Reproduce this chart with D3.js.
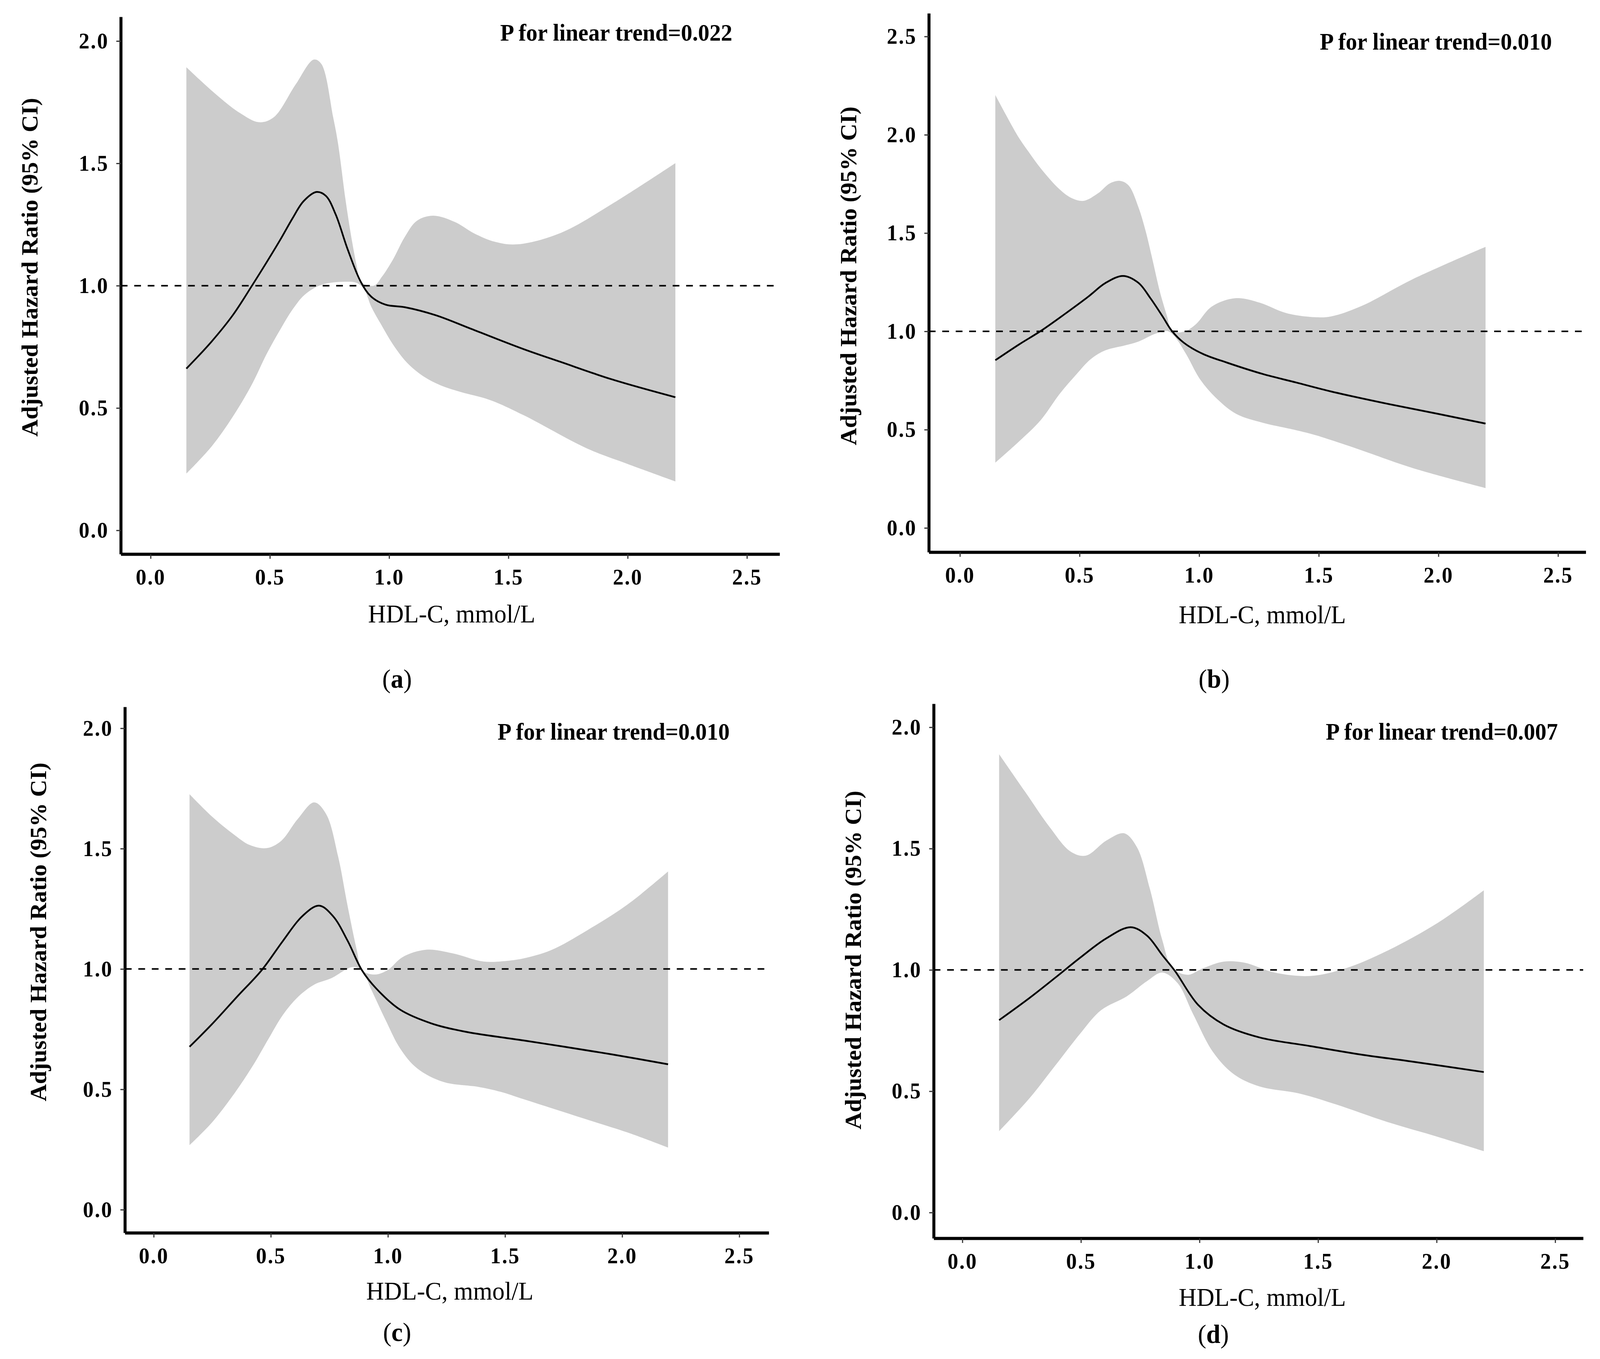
<!DOCTYPE html>
<html>
<head>
<meta charset="utf-8">
<script src="https://cdn.jsdelivr.net/npm/d3@7"></script>
<style>
  html, body { margin: 0; padding: 0; background: #fff; overflow: hidden; }
  svg { display: block; width: 100vw; height: 100vh; }
  text { font-family: "Liberation Serif", "Times New Roman", serif; fill: #000; }
</style>
</head>
<body>
<div id="chart"></div>
<script>
// tick labels
const xTicks = [0, 0.5, 1, 1.5, 2, 2.5];
const yTicksLow = [0, 0.5, 1, 1.5, 2];
const yTicksHigh = [0, 0.5, 1, 1.5, 2, 2.5];
const panelTags = ['a', 'b', 'c', 'd'];
const pTrend = ['0.022', '0.010', '0.010', '0.007'];

// (a) hazard ratio and 95% CI, [HDL-C, HR]
const hrA = [[0.15,0.661],[0.256,0.772],[0.345,0.88],[0.425,1.0],[0.486,1.095],[0.545,1.19],[0.596,1.277],[0.641,1.345],[0.696,1.383],[0.735,1.367],[0.776,1.291],[0.826,1.149],[0.881,1.016],[0.925,0.955],[0.986,0.922],[1.066,0.912],[1.196,0.879],[1.345,0.823],[1.563,0.741],[1.72,0.688],[1.934,0.617],[2.2,0.544]];
const upA = [[0.15,1.893],[0.267,1.788],[0.374,1.706],[0.455,1.668],[0.516,1.688],[0.609,1.824],[0.684,1.924],[0.716,1.906],[0.765,1.69],[0.785,1.586],[0.82,1.332],[0.845,1.179],[0.865,1.077],[0.881,1.016],[0.936,1.0],[0.97,1.037],[1.016,1.107],[1.066,1.2],[1.116,1.265],[1.185,1.286],[1.276,1.26],[1.356,1.214],[1.445,1.179],[1.536,1.169],[1.72,1.216],[1.934,1.334],[2.2,1.501]];
const loA = [[0.15,0.232],[0.256,0.343],[0.345,0.465],[0.425,0.597],[0.486,0.72],[0.545,0.823],[0.596,0.904],[0.646,0.963],[0.715,1.003],[0.815,1.016],[0.865,1.011],[0.895,0.986],[0.925,0.914],[0.966,0.842],[1.016,0.76],[1.075,0.685],[1.146,0.628],[1.215,0.593],[1.295,0.567],[1.425,0.532],[1.563,0.471],[1.827,0.336],[1.998,0.272],[2.2,0.2]];

// (b)
const hrB = [[0.148,0.853],[0.248,0.934],[0.338,1.002],[0.437,1.087],[0.537,1.177],[0.607,1.245],[0.682,1.282],[0.746,1.247],[0.796,1.169],[0.847,1.076],[0.886,1.002],[0.936,0.942],[1.016,0.885],[1.116,0.841],[1.266,0.783],[1.405,0.74],[1.552,0.694],[1.785,0.632],[1.999,0.58],[2.197,0.531]];
const upB = [[0.148,2.202],[0.198,2.089],[0.248,1.982],[0.288,1.912],[0.338,1.829],[0.417,1.722],[0.467,1.678],[0.517,1.664],[0.577,1.702],[0.627,1.753],[0.672,1.765],[0.706,1.741],[0.746,1.632],[0.777,1.507],[0.802,1.38],[0.836,1.201],[0.866,1.076],[0.886,1.002],[0.936,0.998],[0.986,1.036],[1.045,1.119],[1.106,1.157],[1.166,1.169],[1.255,1.145],[1.364,1.093],[1.484,1.072],[1.552,1.076],[1.679,1.129],[1.892,1.265],[2.197,1.43]];
const loB = [[0.148,0.332],[0.248,0.441],[0.338,0.549],[0.417,0.682],[0.488,0.783],[0.547,0.859],[0.607,0.903],[0.688,0.928],[0.746,0.948],[0.817,0.988],[0.866,1.002],[0.897,0.974],[0.945,0.885],[1.006,0.752],[1.075,0.656],[1.155,0.58],[1.266,0.535],[1.384,0.503],[1.484,0.473],[1.552,0.447],[1.679,0.395],[1.892,0.305],[2.197,0.203]];

// (c)
const hrC = [[0.153,0.677],[0.247,0.769],[0.359,0.888],[0.461,0.995],[0.552,1.117],[0.634,1.219],[0.706,1.263],[0.766,1.219],[0.828,1.117],[0.889,0.995],[0.95,0.919],[1.052,0.831],[1.185,0.774],[1.327,0.74],[1.579,0.703],[1.739,0.679],[1.957,0.645],[2.196,0.604]];
const upC = [[0.153,1.726],[0.247,1.635],[0.338,1.562],[0.41,1.515],[0.482,1.502],[0.543,1.531],[0.615,1.623],[0.685,1.692],[0.736,1.644],[0.787,1.469],[0.828,1.261],[0.868,1.075],[0.889,0.995],[0.945,0.977],[1.001,0.997],[1.062,1.049],[1.164,1.08],[1.276,1.065],[1.408,1.031],[1.51,1.034],[1.579,1.044],[1.696,1.078],[1.848,1.159],[2.022,1.267],[2.196,1.405]];
const loC = [[0.153,0.268],[0.247,0.36],[0.338,0.474],[0.42,0.593],[0.492,0.713],[0.552,0.81],[0.615,0.883],[0.685,0.935],[0.757,0.961],[0.848,1.008],[0.889,0.995],[0.929,0.914],[0.991,0.786],[1.052,0.67],[1.124,0.588],[1.236,0.531],[1.387,0.51],[1.48,0.49],[1.579,0.459],[1.848,0.375],[2.022,0.321],[2.196,0.258]];

// (d)
const hrD = [[0.155,0.793],[0.284,0.885],[0.392,0.968],[0.499,1.052],[0.607,1.13],[0.71,1.176],[0.779,1.141],[0.843,1.061],[0.897,0.995],[0.994,0.856],[1.102,0.775],[1.252,0.722],[1.467,0.686],[1.682,0.651],[1.898,0.622],[2.199,0.579]];
const upD = [[0.155,1.889],[0.262,1.738],[0.37,1.586],[0.456,1.488],[0.521,1.471],[0.607,1.533],[0.682,1.563],[0.736,1.506],[0.79,1.337],[0.843,1.123],[0.886,1.007],[0.951,0.98],[1.016,1.007],[1.102,1.034],[1.188,1.03],[1.317,0.989],[1.467,0.975],[1.618,1.007],[1.79,1.078],[2.005,1.194],[2.199,1.328]];
const loD = [[0.155,0.335],[0.284,0.472],[0.392,0.606],[0.499,0.74],[0.585,0.834],[0.693,0.891],[0.779,0.954],[0.843,0.989],[0.908,0.945],[0.972,0.82],[1.058,0.66],[1.145,0.57],[1.252,0.52],[1.424,0.49],[1.575,0.446],[1.79,0.374],[2.005,0.312],[2.199,0.253]];

const W = 4279, H = 3478;

// panel geometry (pixels) and axis extents
const panels = [
  { hr: hrA, up: upA, lo: loA, yTicks: yTicksLow,
    left: 323, right: 2085, top: 43, bottom: 1418, xDom: [-0.125, 2.637], yDom: [-0.097, 2.099],
    yLab: [100, 684], xLab: [1208, 1593], tag: [1062, 1760], pX: 1648, pY: 104 },
  { hr: hrB, up: upB, lo: loB, yTicks: yTicksHigh,
    left: 2484, right: 4241, top: 34, bottom: 1413, xDom: [-0.13, 2.616], yDom: [-0.123, 2.618],
    yLab: [2290, 706], xLab: [3376, 1595], tag: [3247, 1760], pX: 3840, pY: 127 },
  { hr: hrC, up: upC, lo: loC, yTicks: yTicksLow,
    left: 334, right: 2056, top: 1809, bottom: 3155, xDom: [-0.123, 2.626], yDom: [-0.096, 2.089],
    yLab: [123, 2385], xLab: [1203, 3326], tag: [1062, 3432], pX: 1641, pY: 1893 },
  { hr: hrD, up: upD, lo: loD, yTicks: yTicksLow,
    left: 2497, right: 4234, top: 1801, bottom: 3169, xDom: [-0.121, 2.618], yDom: [-0.106, 2.097],
    yLab: [2302, 2457], xLab: [3376, 3342], tag: [3245, 3437], pX: 3856, pY: 1893 }
];

const svg = d3.select('#chart').append('svg')
    .attr('viewBox', `0 0 ${W} ${H}`)
    .attr('preserveAspectRatio', 'none');

svg.append('rect').attr('width', W).attr('height', H).attr('fill', '#fff');

const fmt = d3.format('.1f');

panels.forEach((p, i) => {
  const x = d3.scaleLinear().domain(p.xDom).range([p.left, p.right]);
  const y = d3.scaleLinear().domain(p.yDom).range([p.bottom, p.top]);
  const g = svg.append('g');

  const line = d3.line()
      .x(d => x(d[0]))
      .y(d => y(d[1]))
      .curve(d3.curveCatmullRom.alpha(0.5));

  // confidence band: upper edge forward, lower edge back
  const bandPath = line(p.up) + line(p.lo.slice().reverse()).replace(/^M/, 'L') + 'Z';
  g.append('path')
      .attr('d', bandPath)
      .attr('fill', '#cccccc')
      .attr('stroke', 'none');

  // reference line at HR = 1
  g.append('line')
      .attr('x1', p.left)
      .attr('x2', p.right)
      .attr('y1', y(1))
      .attr('y2', y(1))
      .attr('stroke', '#000')
      .attr('stroke-width', 4)
      .attr('stroke-dasharray', '18 18');

  g.append('path')
      .attr('d', line(p.hr))
      .attr('fill', 'none')
      .attr('stroke', '#000')
      .attr('stroke-width', 4.5);

  // axes
  const yAxis = g.append('g')
      .attr('transform', `translate(${p.left},0)`)
      .call(d3.axisLeft(y).tickValues(p.yTicks).tickFormat(fmt).tickSize(12).tickSizeOuter(0).tickPadding(20));
  const xAxis = g.append('g')
      .attr('transform', `translate(0,${p.bottom})`)
      .call(d3.axisBottom(x).tickValues(xTicks).tickFormat(fmt).tickSize(12).tickSizeOuter(0).tickPadding(26));

  [yAxis, xAxis].forEach(ax => {
    ax.select('.domain').attr('stroke', '#000').attr('stroke-width', 8);
    ax.selectAll('.tick line').attr('stroke', '#333').attr('stroke-width', 3);
    ax.selectAll('.tick text')
        .attr('font-family', '"Liberation Serif", serif')
        .attr('font-size', 57)
        .attr('font-weight', 'bold')
        .attr('letter-spacing', 3)
        .attr('fill', '#000');
  });

  g.append('text')
      .attr('transform', `translate(${p.yLab[0]},${p.yLab[1]}) rotate(-90)`)
      .attr('text-anchor', 'middle')
      .attr('font-size', 61)
      .attr('font-weight', 'bold')
      .text('Adjusted Hazard Ratio (95% CI)');

  g.append('text')
      .attr('x', p.xLab[0])
      .attr('y', p.xLab[1])
      .attr('text-anchor', 'middle')
      .attr('font-size', 66)
      .text('HDL-C, mmol/L');

  g.append('text')
      .attr('x', p.pX)
      .attr('y', p.pY)
      .attr('text-anchor', 'middle')
      .attr('font-size', 61)
      .attr('font-weight', 'bold')
      .text(`P for linear trend=${pTrend[i]}`);

  const tag = g.append('text')
      .attr('x', p.tag[0])
      .attr('y', p.tag[1])
      .attr('text-anchor', 'middle')
      .attr('font-size', 68);
  tag.append('tspan').text('(');
  tag.append('tspan').attr('font-weight', 'bold').text(panelTags[i]);
  tag.append('tspan').text(')');
});
</script>
</body>
</html>
